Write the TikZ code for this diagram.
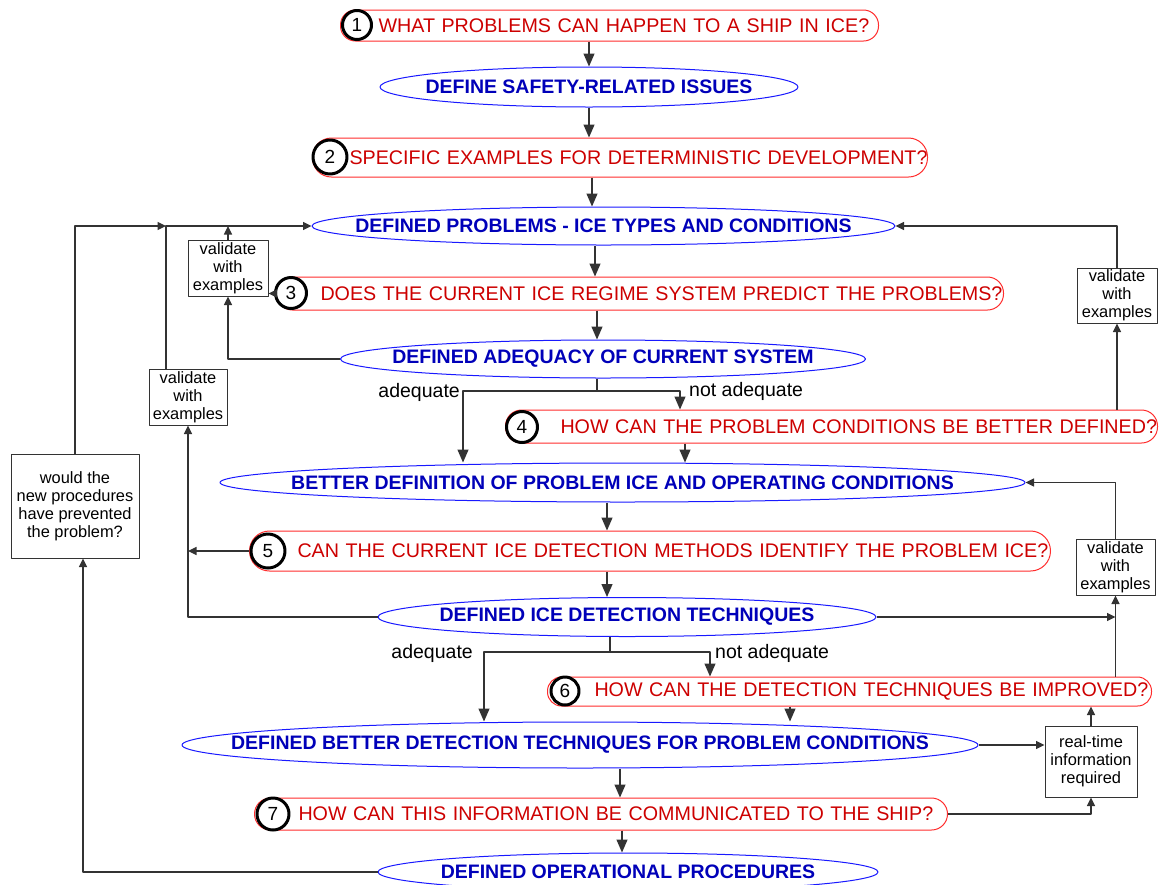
\documentclass[tikz,border=0pt]{standalone}
\usepackage{fontspec}
\setmainfont{Liberation Sans}
\usetikzlibrary{arrows.meta,shapes.geometric}
\definecolor{qred}{RGB}{205,0,0}
\definecolor{qline}{RGB}{255,45,45}
\definecolor{eblue}{RGB}{0,0,185}
\definecolor{eline}{RGB}{25,25,255}
\newcommand\qfont{\fontsize{19.7}{22}\selectfont}
\newcommand\efont{\fontsize{19.5}{22}\selectfont\bfseries}
\newcommand\vfont{\fontsize{16.4}{18}\selectfont}
\newcommand\labfont{\fontsize{19.5}{22}\selectfont}
\newcommand\numfont{\fontsize{19}{20}\selectfont}
\begin{document}
\begin{tikzpicture}[x=1pt,y=-1pt,line join=round,>={Triangle[length=13pt,width=11pt]},
 link/.style={draw=black!80,line width=1.2pt},
 fb/.style={draw=black!80,line width=1.2pt,-{Triangle[length=8.5pt,width=8pt]}},
 qbox/.style n args={3}{draw=qline,line width=1pt,rounded corners=#3,anchor=west,inner xsep=0pt,inner ysep=0pt,text width=#1,minimum height=#2,align=left,text=qred,font=\qfont},
 num/.style={circle,draw=black,line width=3pt,fill=white,inner sep=0pt,minimum size=#1,font=\numfont},
 ebox/.style n args={2}{ellipse,draw=eline,line width=1pt,inner sep=0pt,minimum width=#1,minimum height=#2},
 etext/.style={text=eblue,font=\efont},
 vbox/.style={draw=black!80,line width=1pt,align=center,font=\vfont,inner sep=0pt},
 lab/.style={font=\labfont,inner sep=0pt}]
\path[use as bounding box,fill=white] (0,0) rectangle (1159,884);
% questions
\node[qbox={538pt}{31pt}{15pt}] (q1) at (340,25.5) {\hspace*{38pt}\mbox{WHAT PROBLEMS CAN HAPPEN TO A SHIP IN ICE?}};
\node[qbox={615pt}{39pt}{19pt}] (q2) at (312,157.5) {\hspace*{37pt}\mbox{SPECIFIC EXAMPLES FOR DETERMINISTIC DEVELOPMENT?}};
\node[qbox={727pt}{33pt}{16pt}] (q3) at (276,293.5) {\hspace*{44pt}\mbox{DOES THE CURRENT ICE REGIME SYSTEM PREDICT THE PROBLEMS?}};
\node[qbox={652pt}{33pt}{16pt}] (q4) at (505,426.5) {\hspace*{55pt}\mbox{HOW CAN THE PROBLEM CONDITIONS BE BETTER DEFINED?}};
\node[qbox={801pt}{40pt}{20pt}] (q5) at (249,551) {\hspace*{48pt}\mbox{CAN THE CURRENT ICE DETECTION METHODS IDENTIFY THE PROBLEM ICE?}};
\node[qbox={604pt}{29pt}{14pt}] (q6) at (547,691.5) {\hspace*{47pt}\mbox{HOW CAN THE DETECTION TECHNIQUES BE IMPROVED?}};
\node[qbox={693pt}{32pt}{16pt}] (q7) at (254,814) {\hspace*{44pt}\mbox{HOW CAN THIS INFORMATION BE COMMUNICATED TO THE SHIP?}};
\node[num=29pt] (n1) at (357,25) {1};
\node[num=34pt] (n2) at (330,157) {2};
\node[num=31pt] (n3) at (291,293) {3};
\node[num=31pt] (n4) at (522,427) {4};
\node[num=34pt] (n5) at (268,551) {5};
\node[num=28pt] (n6) at (565,691) {6};
\node[num=32pt] (n7) at (273,814) {7};
% defined results
\node[ebox={418pt}{40pt},label={[etext]center:DEFINE SAFETY-RELATED ISSUES}] (e1) at (589,87) {};
\node[ebox={583pt}{38pt},label={[etext]center:DEFINED PROBLEMS - ICE TYPES AND CONDITIONS}] (e2) at (603.5,226) {};
\node[ebox={525pt}{38pt},label={[etext]center:DEFINED ADEQUACY OF CURRENT SYSTEM}] (e3) at (603,359) {};
\node[ebox={805pt}{39pt},label={[etext]center:BETTER DEFINITION OF PROBLEM ICE AND OPERATING CONDITIONS}] (e4) at (622.5,482.5) {};
\node[ebox={498pt}{39pt},label={[etext]center:DEFINED ICE DETECTION TECHNIQUES}] (e5) at (627,617) {};
\node[ebox={796pt}{46pt},label={[etext]center:DEFINED BETTER DETECTION TECHNIQUES FOR PROBLEM CONDITIONS}] (e6) at (580,745) {};
\node[ebox={500pt}{38pt},label={[etext]center:DEFINED OPERATIONAL PROCEDURES}] (e7) at (628,872) {};
% side boxes
\node[vbox,minimum width=80pt,minimum height=56pt] (va) at (228,268) {validate\\with\\examples};
\node[vbox,minimum width=78pt,minimum height=56pt] (vb) at (188,397) {validate\\with\\examples};
\node[vbox,minimum width=80pt,minimum height=55pt] (vc) at (1117,295.5) {validate\\with\\examples};
\node[vbox,minimum width=79pt,minimum height=56pt] (vd) at (1115.5,567) {validate\\with\\examples};
\node[vbox,minimum width=92pt,minimum height=71pt] (rt) at (1091,761.5) {real-time\\information\\required};
\node[vbox,minimum width=128pt,minimum height=104pt] (wb) at (75,506) {would the\\new procedures\\have prevented\\the problem?};
% main flow
\draw[link,->] (e1.north |- q1.south) -- (e1.north);
\draw[link,->] (e1.south) -- (e1.south |- q2.north);
\draw[link,->] (592,0 |- q2.south) -- (592,0 |- e2.north);
\draw[link,->] (595,0 |- e2.south) -- (595,0 |- q3.north);
\draw[link,->] (597,0 |- q3.south) -- (597,0 |- e3.north);
\coordinate (br1) at (597,391);
\draw[link] (br1 |- e3.south) -- (br1);
\draw[link,->] (br1) -| (463,0 |- e4.north);
\draw[link,->] (br1) -| (680,0 |- q4.north);
\node[lab,anchor=east] (ad1) at (460,392) {adequate};
\node[lab,anchor=west] (na1) at (689,391) {not adequate};
\draw[link,->] (685,0 |- q4.south) -- (685,0 |- e4.north);
\draw[link,->] (607,0 |- e4.south) -- (607,0 |- q5.north);
\draw[link,->] (607,0 |- q5.south) -- (607,0 |- e5.north);
\coordinate (br2) at (610,652);
\draw[link] (br2 |- e5.south) -- (br2);
\draw[link,->] (br2) -| (484,0 |- e6.north);
\draw[link,->] (br2) -| (710,0 |- q6.north);
\node[lab,anchor=east] (ad2) at (473,653) {adequate};
\node[lab,anchor=west] (na2) at (715,653) {not adequate};
\draw[link,->] (790,0 |- q6.south) -- (790,0 |- e6.north);
\draw[link,->] (620,0 |- e6.south) -- (620,0 |- q7.north);
\draw[link,->] (622,0 |- q7.south) -- (622,0 |- e7.north);
% feedback loops
\draw[fb] (va.north) -- (va.north |- e2.west);
\draw[fb] (q3.west) -- (q3.west -| va.east);
\draw[fb] (e3.west) -| (va.south);
\draw[fb] (q5.west) -- (q5.west -| vb.south);
\draw[fb] (e5.west) -| (vb.south);
\draw[fb] (166,0 |- vb.north) |- (e2.west);
\coordinate (j2) at (166,226);
\draw[fb] (wb.north) |- (j2);
\draw[fb] (vc.south |- q4.north) -- (vc.south);
\draw[fb] (vc.north) |- (e2.east);
\draw[fb] (e5.east) -- (e5.east -| vd.south);
\draw[fb] (vd.south |- q6.north) -- (vd.south);
\draw[fb] (vd.north) |- (e4.east);
\draw[fb] (e6.east) -- (e6.east -| rt.west);
\draw[fb] (rt.north) -- (rt.north |- q6.south);
\draw[fb] (q7.east) -| (rt.south);
\draw[fb] (e7.west) -| (83,0 |- wb.south);
\end{tikzpicture}
\end{document}
